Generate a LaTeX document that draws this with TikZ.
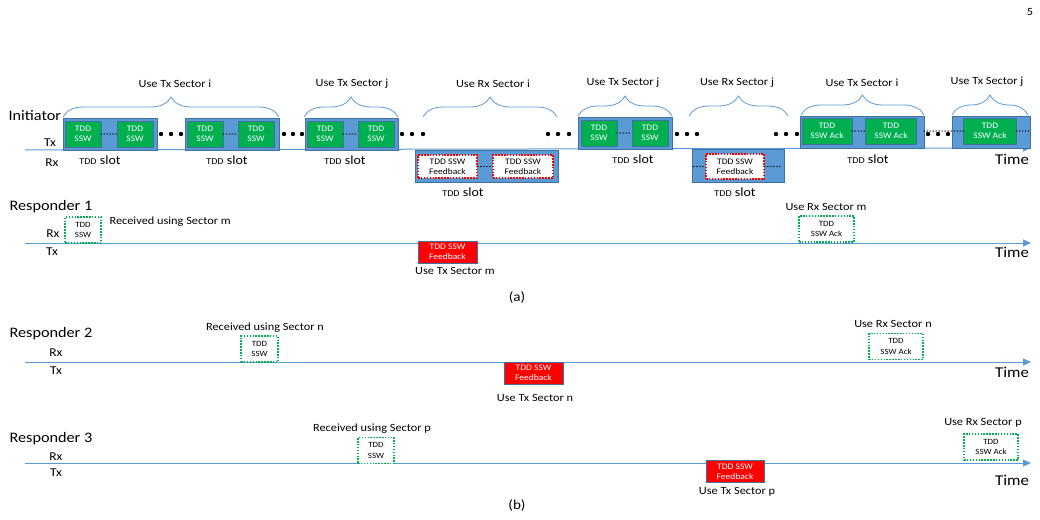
\documentclass[tikz,border=0pt]{standalone}
\usepackage{fontspec}
\setmainfont{Carlito}[FakeStretch=1.12]
\usetikzlibrary{positioning,decorations.pathreplacing,arrows.meta}

\definecolor{slotblue}{HTML}{5B9BD5}
\definecolor{slotedge}{HTML}{41719C}
\definecolor{sswgreen}{HTML}{00B050}

\newcommand{\tddslot}{{\fontsize{9}{10}\selectfont TDD} slot}

\tikzset{
    slotbox/.style={draw=slotedge, fill=slotblue, minimum height=32pt, inner sep=0pt},
    sswbox/.style={draw=slotedge, fill=sswgreen, text=white, align=center, inner sep=0pt,
        minimum height=26pt, font=\fontsize{8.5}{10}\selectfont},
    fbbox/.style={draw=red, dash pattern=on 1.5pt off 1.4pt, line width=1.5pt, fill=white, align=center, inner sep=0pt,
        minimum height=23pt, font=\fontsize{8.5}{10}\selectfont},
    rxbox/.style={draw=sswgreen, dash pattern=on 1.5pt off 1.4pt, line width=1.5pt, fill=white, align=center, inner sep=0pt,
        minimum height=26pt, font=\fontsize{8}{10.5}\selectfont},
    txbox/.style={draw=slotedge, fill=red, text=white, align=center, inner sep=0pt,
        minimum height=22pt, font=\fontsize{8.5}{10}\selectfont},
    timeline/.style={draw=slotblue, line width=1pt, -{Triangle[length=8pt, width=7pt]}},
    sectorbrace/.style={draw=slotblue, line width=0.8pt, decorate, decoration={brace, amplitude=20pt}},
    smalldots/.style={line width=1.5pt, line cap=round, dash pattern=on 0pt off 3pt},
    sector/.style={font=\fontsize{11}{13}\selectfont},
    who/.style={anchor=west, font=\fontsize{14.5}{17}\selectfont},
    rxtx/.style={font=\fontsize{12}{14}\selectfont},
    timelabel/.style={font=\fontsize{15}{17}\selectfont},
    slotlabel/.style={font=\fontsize{12.5}{14}\selectfont},
}

\begin{document}
\begin{tikzpicture}[x=1pt, y=-1pt]
    \useasboundingbox (0,0) rectangle (1040,519);

    \node[font=\fontsize{11}{13}\selectfont] (page) at (1030,12) {5};

    % initiator
    \coordinate (i0) at (25,150);
    \coordinate (i1) at (1031,148);
    \draw[timeline] (i0) -- (i1);
    \node[who] (init) at (5,116) {Initiator};
    \node[rxtx] (itx) at (50,143) {Tx};
    \node[rxtx] (irx) at (52,163) {Rx};
    \node[timelabel] (itime) at (1012,159) {Time};

    \node[slotbox, minimum width=94pt] (s1) at (110,134) {};
    \node[slotbox, minimum width=94pt] (s2) at (232,134) {};
    \node[slotbox, minimum width=93pt] (s3) at (351.5,134) {};
    \node[slotbox, minimum width=94pt] (s4) at (625,133) {};
    \node[slotbox, minimum width=124pt] (s5) at (862,132) {};
    \node[slotbox, minimum width=78pt] (s6) at (991,132) {};

    \node[sswbox, minimum width=36pt] (g1a) at (83,134) {TDD\\SSW};
    \node[sswbox, minimum width=36pt] (g1b) at (135,134) {TDD\\SSW};
    \node[sswbox, minimum width=36pt] (g2a) at (205,134) {TDD\\SSW};
    \node[sswbox, minimum width=36pt] (g2b) at (256,134) {TDD\\SSW};
    \node[sswbox, minimum width=36pt] (g3a) at (325,134) {TDD\\SSW};
    \node[sswbox, minimum width=36pt] (g3b) at (376,134) {TDD\\SSW};
    \node[sswbox, minimum width=36pt] (g4a) at (599,133) {TDD\\SSW};
    \node[sswbox, minimum width=36pt] (g4b) at (650,133) {TDD\\SSW};
    \node[sswbox, minimum width=50pt] (g5a) at (827,131) {TDD\\SSW Ack};
    \node[sswbox, minimum width=51pt] (g5b) at (891,131) {TDD\\SSW Ack};
    \node[sswbox, minimum width=53pt] (g6) at (990,131) {TDD\\SSW Ack};

    \node[slotbox, minimum width=143pt] (r1) at (486.5,166) {};
    \node[fbbox, minimum width=59pt] (f1a) at (447.5,166.5) {TDD SSW\\Feedback};
    \node[fbbox, minimum width=60pt] (f1b) at (523,166.5) {TDD SSW\\Feedback};
    \node[slotbox, minimum width=92pt, minimum height=33pt] (r2) at (738,165.5) {};
    \node[fbbox, minimum width=58pt, minimum height=25pt] (f2) at (735,166.5) {TDD SSW\\Feedback};

    \draw[smalldots] (g1a) -- (g1b);
    \draw[smalldots] (g2a) -- (g2b);
    \draw[smalldots] (g3a) -- (g3b);
    \draw[smalldots] (g4a) -- (g4b);
    \draw[smalldots] (g5a) -- (g5b);
    \draw[smalldots] (s5.east |- g6.west) -- (g6.west);
    \draw[smalldots] (g6.east) -- (s6.east |- g6.east);
    \draw[smalldots] (f1a) -- (f1b);
    \draw[smalldots, shorten <=2pt] (r2.west |- f2.west) -- (f2.west);
    \draw[smalldots, shorten >=2pt] (f2.east) -- (r2.east |- f2.east);

    \foreach \x in {161,171,181,284,293,302,402,412,423,548,558,569,677,687,697,776,786,797,928,938,948}
        \fill (\x,134) circle (2.2pt);

    \node[slotlabel] (l1) at (100,160) {\tddslot};
    \node[slotlabel] (l2) at (227,160) {\tddslot};
    \node[slotlabel] (l3) at (345,160) {\tddslot};
    \node[slotlabel] (l4) at (633,159) {\tddslot};
    \node[slotlabel] (l5) at (868,159) {\tddslot};
    \node[slotlabel] (l6) at (463,192) {\tddslot};
    \node[slotlabel] (l7) at (735,192) {\tddslot};

    % sector braces
    \draw[sectorbrace] (63,117) -- (279,117);
    \draw[sectorbrace] (304,117) -- (398,117);
    \draw[sectorbrace] (423,117) -- (557,117);
    \draw[sectorbrace] (578,116) -- (672,116);
    \draw[sectorbrace] (689,116) -- (788,116);
    \draw[sectorbrace] (801,115) -- (924,115);
    \draw[sectorbrace] (952,115) -- (1028,115);
    \node[sector] (b1) at (175,84) {Use Tx Sector i};
    \node[sector] (b2) at (352,84) {Use Tx Sector j};
    \node[sector] (b3) at (493,84) {Use Rx Sector i};
    \node[sector] (b4) at (623,83) {Use Tx Sector j};
    \node[sector] (b5) at (737,83) {Use Rx Sector j};
    \node[sector] (b6) at (862,83) {Use Tx Sector i};
    \node[sector] (b7) at (987,82) {Use Tx Sector j};

    % responder 1
    \coordinate (a0) at (25,243);
    \coordinate (a1) at (1031,243);
    \draw[timeline] (a0) -- (a1);
    \node[who] (resp1) at (6,207) {Responder 1};
    \node[rxtx] (arx) at (53,234) {Rx};
    \node[rxtx] (atx) at (52,252) {Tx};
    \node[rxbox, minimum width=36pt] (ssw1) at (83,230) {TDD\\SSW};
    \node[sector, anchor=west] (rec1) at (106,222) {Received using Sector m};
    \node[txbox, minimum width=59pt] (fb1) at (447.5,252) {TDD SSW\\Feedback};
    \node[sector] (utx1) at (455,271) {Use Tx Sector m};
    \node[rxbox, minimum width=55pt] (ack1) at (826.5,229) {TDD\\SSW Ack};
    \node[sector] (urx1) at (826,207) {Use Rx Sector m};
    \node[timelabel] (atime) at (1012,252) {Time};
    \node[font=\fontsize{13.5}{15}\selectfont] (cap-a) at (517,297) {(a)};

    % responder 2
    \coordinate (c0) at (25,362);
    \coordinate (c1) at (1031,362);
    \draw[timeline] (c0) -- (c1);
    \node[who] (resp2) at (6,334) {Responder 2};
    \node[rxtx] (crx) at (56,353) {Rx};
    \node[rxtx] (ctx) at (56,371) {Tx};
    \node[rxbox, minimum width=37pt] (ssw2) at (259.5,349) {TDD\\SSW};
    \node[sector] (rec2) at (265,328) {Received using Sector n};
    \node[txbox, minimum width=59pt] (fb2) at (533.5,373) {TDD SSW\\Feedback};
    \node[sector] (utx2) at (535,398) {Use Tx Sector n};
    \node[rxbox, minimum width=54pt] (ack2) at (896,346.5) {TDD\\SSW Ack};
    \node[sector] (urx2) at (893,324) {Use Rx Sector n};
    \node[timelabel] (ctime) at (1012,372) {Time};

    % responder 3
    \coordinate (d0) at (25,463);
    \coordinate (d1) at (1031,463);
    \draw[timeline] (d0) -- (d1);
    \node[who] (resp3) at (6,439) {Responder 3};
    \node[rxtx] (drx) at (56,457) {Rx};
    \node[rxtx] (dtx) at (56,473) {Tx};
    \node[rxbox, minimum width=36pt] (ssw3) at (376,450.5) {TDD\\SSW};
    \node[sector] (rec3) at (372,429) {Received using Sector p};
    \node[txbox, minimum width=58pt] (fb3) at (735,471.5) {TDD SSW\\Feedback};
    \node[sector] (utx3) at (737,492) {Use Tx Sector p};
    \node[rxbox, minimum width=54pt] (ack3) at (991,447) {TDD\\SSW Ack};
    \node[sector] (urx3) at (983,423) {Use Rx Sector p};
    \node[timelabel] (dtime) at (1012,480) {Time};
    \node[font=\fontsize{13.5}{15}\selectfont] (cap-b) at (517,505) {(b)};
\end{tikzpicture}
\end{document}
